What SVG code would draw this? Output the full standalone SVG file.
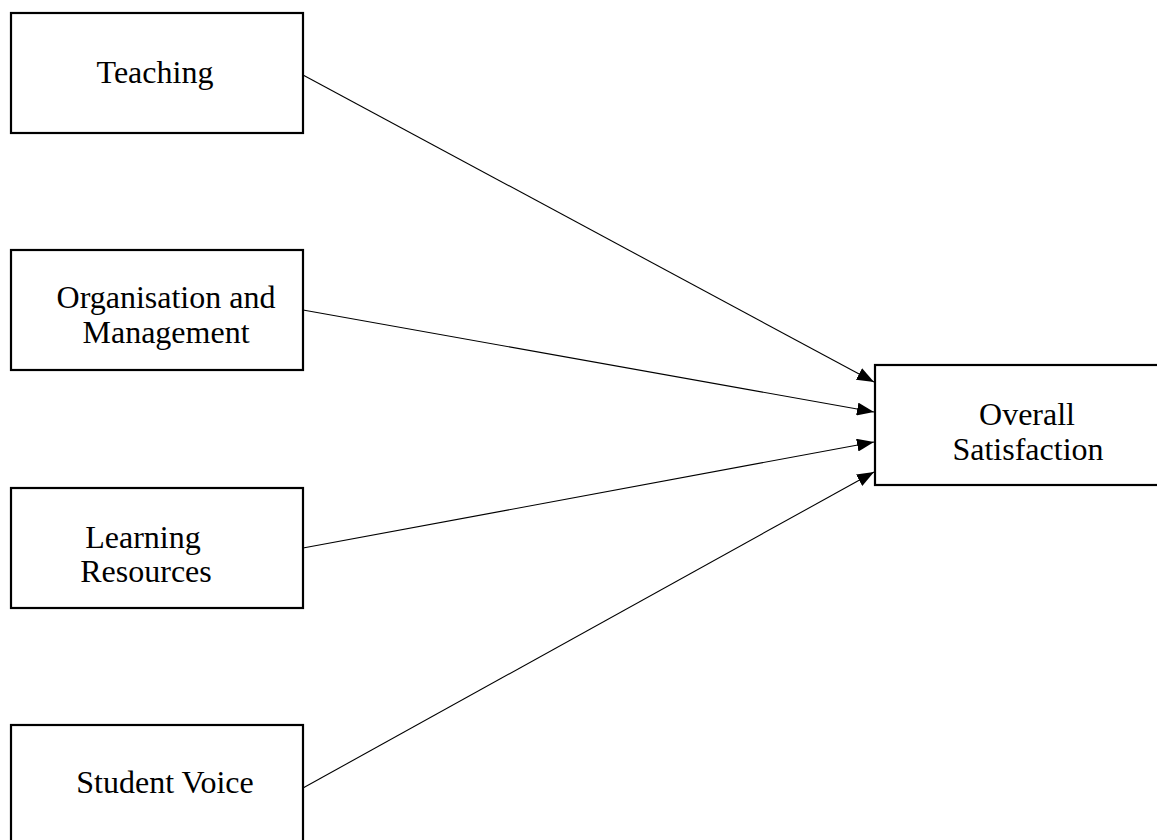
<svg xmlns="http://www.w3.org/2000/svg" width="1157" height="840" viewBox="0 0 1157 840">
  <defs>
    <style>
      .box { fill: #fff; stroke: #000; stroke-width: 2.2; }
      .lbl { font-family: "Liberation Serif", "Times New Roman", serif; font-size: 32px; fill: #000; text-anchor: middle; }
      .edge { stroke: #000; stroke-width: 1.1; fill: none; marker-end: url(#arrow); }
    </style>
    <marker id="arrow" viewBox="0 0 17 13" refX="17" refY="6.5" markerWidth="17" markerHeight="13" markerUnits="userSpaceOnUse" orient="auto">
      <path d="M0,0 L17,6.5 L0,13 Z" fill="#000"/>
    </marker>
  </defs>
  <rect width="1157" height="840" fill="#fff"/>

  <g id="connectors">
    <line class="edge" x1="303" y1="75" x2="874" y2="382"/>
    <line class="edge" x1="303" y1="310" x2="874" y2="412"/>
    <line class="edge" x1="303" y1="548" x2="874" y2="442"/>
    <line class="edge" x1="303" y1="788" x2="874" y2="472"/>
  </g>

  <g id="teaching">
    <rect class="box" x="11" y="13" width="292" height="120"/>
    <text class="lbl" x="155" y="83">Teaching</text>
  </g>

  <g id="organisation">
    <rect class="box" x="11" y="250" width="292" height="120"/>
    <text class="lbl" x="166" y="308">Organisation and</text>
    <text class="lbl" x="166" y="343">Management</text>
  </g>

  <g id="learning">
    <rect class="box" x="11" y="488" width="292" height="120"/>
    <text class="lbl" x="143" y="548">Learning</text>
    <text class="lbl" x="146" y="582">Resources</text>
  </g>

  <g id="student-voice">
    <rect class="box" x="11" y="725" width="292" height="130"/>
    <text class="lbl" x="165" y="793">Student Voice</text>
  </g>

  <g id="overall">
    <rect class="box" x="875" y="365" width="300" height="120"/>
    <text class="lbl" x="1027" y="425">Overall</text>
    <text class="lbl" x="1028" y="460">Satisfaction</text>
  </g>
</svg>
